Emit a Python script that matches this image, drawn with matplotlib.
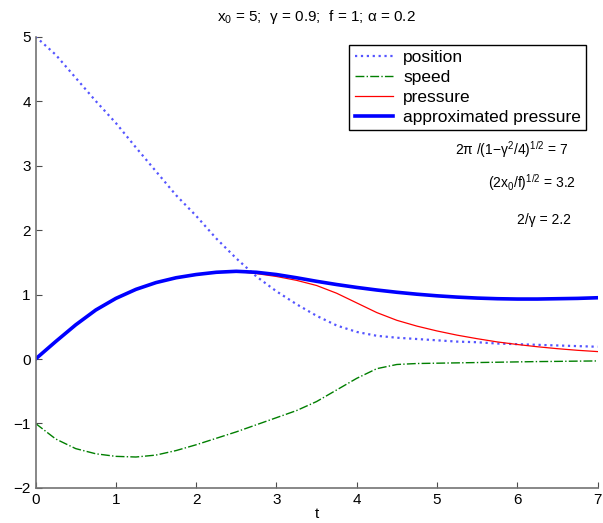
import numpy as np
import matplotlib
matplotlib.use("Agg")
import matplotlib.pyplot as plt

plt.rcParams["font.family"] = ["Liberation Sans", "DejaVu Sans"]
plt.rcParams["mathtext.fontset"] = "custom"
plt.rcParams["mathtext.rm"] = "Liberation Sans"
plt.rcParams["mathtext.it"] = "Liberation Sans"
plt.rcParams["mathtext.default"] = "regular"

t = np.arange(0, 7.01, 0.25)

position = [5.0, 4.72, 4.36, 4.0, 3.66, 3.28, 2.91, 2.54, 2.22, 1.87,
            1.56, 1.28, 1.05, 0.85, 0.67, 0.52, 0.42, 0.36, 0.33, 0.31,
            0.29, 0.27, 0.26, 0.24, 0.23, 0.22, 0.21, 0.20, 0.19]

speed = [-1.0, -1.24, -1.39, -1.47, -1.51, -1.52, -1.49, -1.42, -1.33, -1.23,
         -1.13, -1.02, -0.91, -0.80, -0.66, -0.48, -0.30, -0.15, -0.085, -0.07,
         -0.065, -0.06, -0.055, -0.05, -0.045, -0.04, -0.037, -0.033, -0.03]

pressure = [0.0, 0.27, 0.53, 0.76, 0.94, 1.08, 1.185, 1.26, 1.31, 1.345,
            1.36, 1.325, 1.28, 1.22, 1.14, 1.02, 0.87, 0.72, 0.60, 0.51,
            0.435, 0.37, 0.315, 0.265, 0.225, 0.19, 0.16, 0.135, 0.115]

approx = [0.0, 0.27, 0.53, 0.76, 0.94, 1.08, 1.185, 1.26, 1.31, 1.345,
          1.36, 1.345, 1.31, 1.26, 1.205, 1.155, 1.11, 1.07, 1.035, 1.005,
          0.98, 0.96, 0.945, 0.935, 0.93, 0.93, 0.935, 0.94, 0.95]

fig = plt.figure(figsize=(6.03, 5.23), dpi=100)
ax = fig.add_axes([0.059, 0.067, 0.932, 0.863])

ax.plot(t, position, ":", color="#5555ff", lw=1.6, label="position")
ax.plot(t, speed, "-.", color="#007f00", lw=1.0, label="speed")
ax.plot(t, pressure, "-", color="red", lw=0.9, label="pressure")
ax.plot(t, approx, "-", color="blue", lw=2.6, label="approximated pressure")

ax.set_xlim(0, 7)
ax.set_ylim(-2, 5)
ax.set_xticks(range(0, 8))
ax.set_yticks(range(-2, 6))
ax.tick_params(direction="in", length=4, labelsize=11, color="0.3")
ax.spines["top"].set_visible(False)
ax.spines["right"].set_visible(False)
for s in ["left", "bottom"]:
    ax.spines[s].set_color("0.45")
    ax.spines[s].set_linewidth(1.2)

ax.set_xlabel("t", fontsize=11, labelpad=0)
ax.set_title("$x_0$ = 5;  γ = 0.9;  f = 1; α = 0.2", fontsize=11, pad=11)

leg = ax.legend(loc="upper right", bbox_to_anchor=(0.98, 0.982), borderaxespad=0,
                fontsize=12.5, handlelength=2.2, handletextpad=0.6,
                labelspacing=0.28, borderpad=0.3, fancybox=False, framealpha=1)
leg.get_frame().set_edgecolor("black")
leg.get_frame().set_linewidth(1.0)

ax.text(0.948, 0.749, "2π /(1−$\\gamma^2$/4)$^{1/2}$ = 7", transform=ax.transAxes,
        ha="right", va="center", fontsize=10)
ax.text(0.962, 0.676, "(2$x_0$/f)$^{1/2}$ = 3.2", transform=ax.transAxes,
        ha="right", va="center", fontsize=10)
ax.text(0.953, 0.594, "2/γ = 2.2", transform=ax.transAxes,
        ha="right", va="center", fontsize=10)

fig.savefig("out.png", dpi=100)
